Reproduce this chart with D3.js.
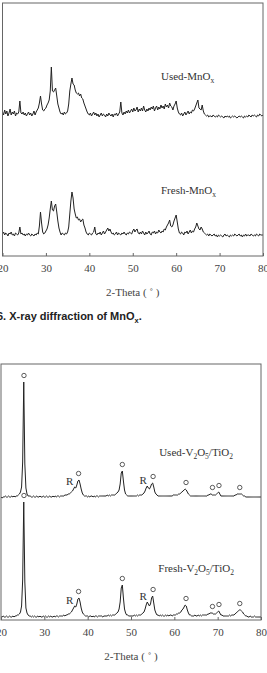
<!DOCTYPE html>
<html><head><meta charset="utf-8">
<script src="https://cdn.jsdelivr.net/npm/d3@7/dist/d3.min.js"></script>
<style>body{margin:0;background:#fff;} svg{display:block;}</style>
</head><body><div id="chart"></div>
<script>
// 2-theta grid of the scans (deg)
var thetaStart = 20, thetaStep = 0.25;
var tickValues = [20, 30, 40, 50, 60, 70, 80];

// MnOx, intensity (a.u.), one value per 0.25 deg from 20 to 80
var freshMnOx = [
 22,24,21,23, 22,20,23,22, 24,21,22,20, 23,22,21,23, 29,22,23,21, 22,20,22,21,
 23,21,20,22, 21,20,22,21, 23,22,30,44, 33,24,22,23, 25,27,31,38, 47,55,46,45,
 50,52,44,35, 28,24,21,23, 22,21,23,22, 24,29,42,55, 64,58,47,42, 38,39,36,37,
 34,36,37,31, 28,24,22,21, 23,22,21,23, 24,29,22,21, 23,22,24,21, 23,25,22,24,
 26,28,25,27, 24,22,23,21, 22,24,21,23, 22,21,23,22, 24,22,21,23, 22,24,23,22,
 25,27,24,26, 27,23,22,24, 22,25,23,21, 24,22,23,25, 22,21,24,23, 25,22,24,23,
 26,24,23,25, 24,27,26,29, 31,33,36,30, 29,31,35,38, 41,34,27,23, 22,24,23,21,
 24,23,25,22, 24,26,23,25, 24,27,29,33, 30,27,26,29, 27,24,23,22, 21,22,20,22,
 21,20,21,22, 20,21,19,21, 20,21,20,19, 21,22,20,21, 20,19,21,20, 21,20,22,21,
 20,21,22,20, 21,19,21,20, 22,20,21,21, 20,22,21,20, 21,20,22,21, 20,22,21,21,
 21];
var usedMnOx = [
 24,21,26,22, 25,20,23,27, 21,24,22,25, 20,23,22,24, 35,23,22,24, 21,23,20,22,
 24,21,23,20, 22,25,21,24, 26,28,33,40, 32,26,25,27, 28,31,33,36, 45,69,45,44,
 46,48,40,32, 28,24,22,23, 21,24,22,23, 25,32,45,52, 58,52,51,46, 43,42,43,40,
 42,38,37,33, 30,27,24,22, 21,23,20,22, 24,21,23,20, 22,19,21,23, 20,22,21,19,
 22,20,23,21, 20,22,19,22, 21,23,20,22, 24,34,23,21, 24,22,25,23, 26,23,25,27,
 24,28,25,26, 29,24,27,25, 28,25,30,26, 24,27,25,28, 26,29,27,30, 25,28,30,26,
 29,27,31,28, 30,27,32,29, 31,28,33,30, 29,26,30,32, 35,28,24,22, 21,23,20,22,
 24,21,23,25, 22,24,23,26, 25,27,30,33, 36,28,27,26, 31,25,22,21, 20,21,19,20,
 20,19,21,20, 19,20,19,21, 20,19,20,19, 18,20,19,20, 19,20,18,19, 20,19,20,19,
 18,19,20,19, 20,19,18,20, 19,20,19,21, 20,19,21,20, 21,20,19,21, 20,22,21,20,
 21];

// V2O5/TiO2, intensity (a.u.), same grid
var freshVTi = [
 3,3,4,3, 3,4,3,3, 4,3,3,4, 3,4,4,5, 5,6,8,14, 40,118,38,12,
 7,5,4,4, 3,4,3,4, 3,3,4,3, 4,3,3,4, 3,4,3,3, 4,3,4,3,
 3,4,3,4, 4,3,4,4, 4,4,5,4, 5,5,6,6, 7,8,10,12, 14,13,16,21,
 22,18,12,8, 6,5,4,4, 4,3,4,4, 3,4,3,4, 4,3,4,4, 4,4,3,4,
 4,4,4,5, 4,5,4,5, 5,5,6,7, 8,11,18,32, 35,22,11,7, 5,5,4,4,
 4,4,4,5, 4,5,4,5, 5,5,6,7, 8,11,15,18, 16,14,16,22, 24,17,10,7,
 5,5,4,5, 4,5,4,4, 5,4,5,4, 5,5,4,5, 5,5,6,6, 7,7,8,10,
 11,13,15,14, 10,7,5,5, 4,4,4,5, 4,4,5,4, 5,4,5,5, 5,5,5,6,
 6,7,7,7, 6,6,6,7, 8,9,7,5, 5,4,4,4, 4,4,4,5, 4,5,5,5,
 6,7,8,9, 10,10,9,8, 6,5,4,4, 3,3,4,3, 3,3,4,3, 3,3,3,3,
 3];
var usedVTi = [
 3,2,3,3, 4,3,3,4, 3,3,4,3, 4,3,4,4, 5,6,8,13, 38,118,36,12,
 6,4,4,4, 3,3,4,3, 3,4,3,3, 4,3,3,4, 3,3,4,3, 3,4,3,3,
 4,3,4,3, 4,4,3,4, 4,4,4,5, 5,5,6,6, 7,8,9,11, 13,12,15,19,
 20,16,11,7, 5,4,4,4, 3,4,3,4, 4,3,4,3, 4,4,3,4, 4,4,4,4,
 4,4,5,4, 5,4,5,5, 5,5,6,7, 8,10,16,27, 29,19,10,6, 5,4,4,4,
 4,4,4,4, 4,4,5,4, 5,5,5,6, 7,9,12,14, 12,11,13,16, 17,13,8,6,
 5,4,4,4, 4,4,4,4, 4,4,4,4, 4,4,4,5, 5,5,5,5, 6,6,7,8,
 9,10,11,10, 8,6,5,4, 4,4,4,4, 4,4,4,4, 4,4,4,4, 4,4,4,5,
 5,6,6,5, 5,5,5,6, 7,8,6,4, 4,4,4,4, 4,4,4,4, 4,4,4,4,
 5,5,6,6, 6,6,6,5, 4,4,3,3, 3,3,3,3, 3,3,3,3, 3,3,3,3,
 3];

var anatasePeaks = [25.3, 37.9, 48.0, 55.1, 62.7, 68.8, 70.3, 75.1];
var rutilePeaks = [36.9, 53.9];

var usedShift = 120; // vertical offset of the "used" scans

var svg = d3.select("#chart").append("svg")
    .attr("width", 267)
    .attr("height", 673);

function toPoints(values) {
  return values.map(function(v, i) { return [thetaStart + i * thetaStep, v]; });
}

function addLabel(g, x, y, parts) {
  var t = g.append("text")
      .attr("x", x).attr("y", y)
      .style("font-family", "'Liberation Serif', 'Times New Roman', serif")
      .style("font-size", "11px")
      .attr("fill", "#333");
  var shifted = false;
  parts.forEach(function(p) {
    var sp = t.append("tspan").text(p[0]);
    if (p[1] && !shifted) { sp.attr("dy", 2.5).style("font-size", "7.5px"); shifted = true; }
    else if (!p[1] && shifted) { sp.attr("dy", -2.5); shifted = false; }
    else if (p[1]) sp.style("font-size", "7.5px");
  });
}

function drawPanel(box, series, labels, marks) {
  var x = d3.scaleLinear().domain([20, 80]).range([box.left, box.right]);
  var y = d3.scaleLinear().domain([0, box.bottom - box.top]).range([box.bottom, box.top]);
  var g = svg.append("g");

  var line = d3.line()
      .x(function(d) { return x(d[0]); })
      .y(function(d) { return y(d[1]); });

  series.forEach(function(s) {
    var pts = toPoints(s.values).map(function(d) { return [d[0], d[1] + s.shift]; });
    g.append("path")
        .attr("d", line(pts))
        .attr("fill", "none")
        .attr("stroke", "#222")
        .attr("stroke-width", 1)
        .attr("stroke-linejoin", "round");

    if (marks) {
      var peakAt = function(a) {
        return d3.max(toPoints(s.values).filter(function(d) { return Math.abs(d[0] - a) <= 0.3; }),
          function(d) { return d[1]; }) + s.shift;
      };
      anatasePeaks.forEach(function(a) {
        g.append("circle")
            .attr("cx", x(a))
            .attr("cy", y(peakAt(a)) - 6.5)
            .attr("r", 2.2)
            .attr("fill", "none")
            .attr("stroke", "#333")
            .attr("stroke-width", 0.8);
      });
      rutilePeaks.forEach(function(a) {
        g.append("text")
            .attr("x", x(a) - 1)
            .attr("y", y(peakAt(a)) - 2)
            .attr("text-anchor", "end")
            .style("font-family", "'Liberation Serif', 'Times New Roman', serif")
            .style("font-size", "11px")
            .attr("fill", "#333")
            .text("R");
      });
    }
  });

  labels.forEach(function(l) { addLabel(g, x(l.theta), y(l.level), l.parts); });

  g.append("rect")
      .attr("x", box.left).attr("y", box.top)
      .attr("width", box.right - box.left)
      .attr("height", box.bottom - box.top)
      .attr("fill", "none")
      .attr("stroke", "#666")
      .attr("stroke-width", 1);

  var axis = g.append("g")
      .attr("transform", "translate(0," + box.bottom + ")")
      .call(d3.axisBottom(x).tickValues(tickValues).tickSizeInner(-3).tickSizeOuter(0).tickPadding(8));
  axis.select(".domain").remove();
  axis.selectAll("line").attr("stroke", "#666");
  axis.selectAll("text")
      .style("font-family", "'Liberation Serif', 'Times New Roman', serif")
      .style("font-size", "11px")
      .attr("fill", "#444");

  g.append("text")
      .attr("x", (box.left + box.right) / 2)
      .attr("y", box.bottom + 40)
      .attr("text-anchor", "middle")
      .style("font-family", "'Liberation Serif', 'Times New Roman', serif")
      .style("font-size", "11px")
      .attr("fill", "#444")
      .text("2-Theta ( \u02da )");
}

drawPanel({left: 2.5, right: 263, top: 3, bottom: 256},
  [{values: freshMnOx, shift: 0}, {values: usedMnOx, shift: usedShift}],
  [{theta: 56.5, level: 176, parts: [["Used-MnO", 0], ["x", 1]]},
   {theta: 56.5, level: 62, parts: [["Fresh-MnO", 0], ["x", 1]]}],
  false);

var cap = svg.append("text")
    .attr("x", -3).attr("y", 320)
    .style("font-family", "'Liberation Sans', Arial, sans-serif")
    .style("font-size", "11px")
    .style("font-weight", "bold")
    .attr("fill", "#222");
cap.append("tspan").text("6. X-ray diffraction of MnO");
cap.append("tspan").attr("dy", 2.5).style("font-size", "7.5px").text("x");
cap.append("tspan").attr("dy", -2.5).text(".");

drawPanel({left: 1, right: 261, top: 364, bottom: 620},
  [{values: freshVTi, shift: 0}, {values: usedVTi, shift: usedShift}],
  [{theta: 56.5, level: 164, parts: [["Used-V", 0], ["2", 1], ["O", 0], ["5", 1], ["/TiO", 0], ["2", 1]]},
   {theta: 56.3, level: 48, parts: [["Fresh-V", 0], ["2", 1], ["O", 0], ["5", 1], ["/TiO", 0], ["2", 1]]}],
  true);
</script>
</body></html>
